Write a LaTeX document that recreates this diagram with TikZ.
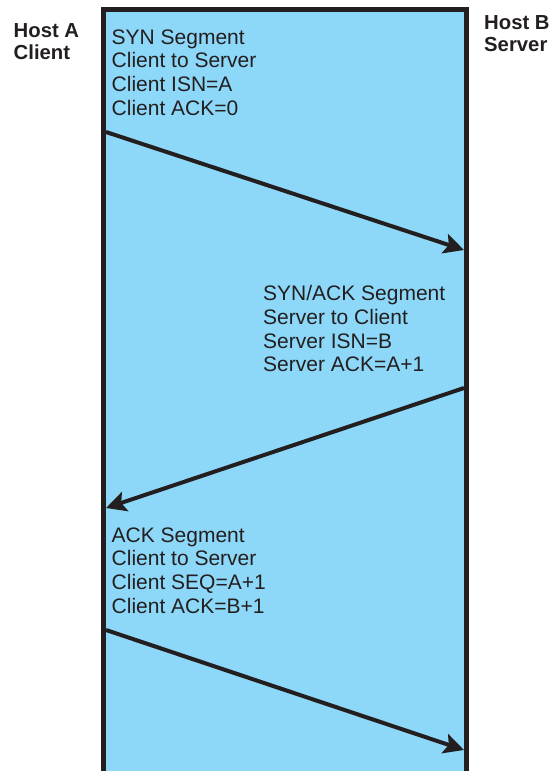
\documentclass[tikz,border=0pt]{standalone}
\usepackage{fontspec}
\setmainfont{Liberation Sans}
\usetikzlibrary{arrows.meta}
\definecolor{lane}{HTML}{8DD8F8}
\definecolor{ink}{HTML}{231F20}
\begin{document}
\begin{tikzpicture}[x=1pt,y=-1pt,
  msg/.style={draw=ink, line width=4pt, -{Stealth[length=20pt,width=20pt,inset=4pt]}},
  seg/.style={anchor=base west, inner sep=0pt, align=left, text=ink, font=\fontsize{21}{23.6}\selectfont},
  host/.style={anchor=base west, inner sep=0pt, align=left, text=ink, font=\bfseries\fontsize{20.3}{22}\selectfont}]
\useasboundingbox (0,0) rectangle (559,771);
\fill[lane] (103.5,9.5) rectangle (466.5,775);
\draw[ink, line width=5pt] (103.5,775) -- (103.5,9.5) -- (466.5,9.5) -- (466.5,775);
\node[host] (hosta) at (13.5,59.5) {Host A\\Client};
\node[host] (hostb) at (484,51.5) {Host B\\Server};
\node[seg] (syn) at (111.5,115) {SYN Segment\\Client to Server\\Client ISN=A\\Client ACK=0};
\node[seg] (synack) at (263,371.7) {SYN/ACK Segment\\Server to Client\\Server ISN=B\\Server ACK=A+1};
\node[seg] (ack) at (111.5,613) {ACK Segment\\Client to Server\\Client SEQ=A+1\\Client ACK=B+1};
\coordinate (a1) at (106,132);
\coordinate (b1) at (464,250);
\coordinate (b2) at (464,388);
\coordinate (a2) at (106,508);
\coordinate (a3) at (106,630);
\coordinate (b3) at (464,750);
\draw[msg] (a1) -- (b1);
\draw[msg] (b2) -- (a2);
\draw[msg] (a3) -- (b3);
\end{tikzpicture}
\end{document}
